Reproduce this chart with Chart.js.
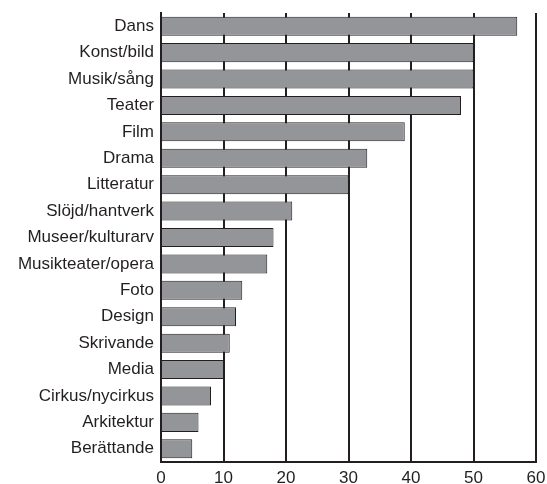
<!DOCTYPE html>
<html>
<head>
<meta charset="utf-8">
<script src="https://cdn.jsdelivr.net/npm/chart.js@4"></script>
<style>
    html, body { margin: 0; padding: 0; background: #fff; }
    #wrap { width: 547px; height: 484px; }
</style>
</head>
<body>
<div id="wrap"><canvas id="myChart" width="547" height="484"></canvas></div>
<script>
const categories = [
    'Dans',
    'Konst/bild',
    'Musik/sång',
    'Teater',
    'Film',
    'Drama',
    'Litteratur',
    'Slöjd/hantverk',
    'Museer/kulturarv',
    'Musikteater/opera',
    'Foto',
    'Design',
    'Skrivande',
    'Media',
    'Cirkus/nycirkus',
    'Arkitektur',
    'Berättande'
];
const values = [57, 50, 50, 48, 39, 33, 30, 21, 18, 17, 13, 12, 11, 10, 8, 6, 5];
const xTicks = [0, 10, 20, 30, 40, 50, 60];

const ink = '#231f20';
const ctx = document.querySelector('#myChart');
new Chart(ctx, {
    type: 'bar',
    data: {
        labels: categories,
        datasets: [
            {
                data: values,
                backgroundColor: '#939598',
                borderColor: ink,
                borderWidth: 1,
                barPercentage: 0.72,
                categoryPercentage: 1
            }
        ]
    },
    options: {
        indexAxis: 'y',
        responsive: false,
        animation: false,
        layout: {
            padding: {top: 13, right: 11, left: 0, bottom: 0}
        },
        plugins: {
            legend: {display: false},
            tooltip: {enabled: false}
        },
        scales: {
            x: {
                min: 0,
                max: 60,
                afterBuildTicks: function (scale) {
                    scale.ticks = xTicks.map(v => ({value: v}));
                },
                afterFit: function (scale) {
                    scale.height = 22;
                    scale.paddingLeft = 0;
                    scale.paddingRight = 0;
                },
                grid: {
                    color: ink,
                    lineWidth: 2,
                    drawTicks: false
                },
                border: {color: ink, width: 2},
                ticks: {
                    color: '#231f20',
                    padding: 6,
                    font: {family: 'Liberation Sans, Arial, sans-serif', size: 17}
                }
            },
            y: {
                afterFit: function (scale) {
                    scale.width = 161;
                    // labels sit inside their bands, no extra room needed
                    scale.paddingTop = 0;
                    scale.paddingBottom = 0;
                },
                grid: {display: false, drawTicks: false},
                border: {color: ink, width: 2},
                ticks: {
                    color: '#231f20',
                    padding: 7,
                    autoSkip: false,
                    font: {family: 'Liberation Sans, Arial, sans-serif', size: 17}
                }
            }
        }
    }
});
</script>
</body>
</html>
